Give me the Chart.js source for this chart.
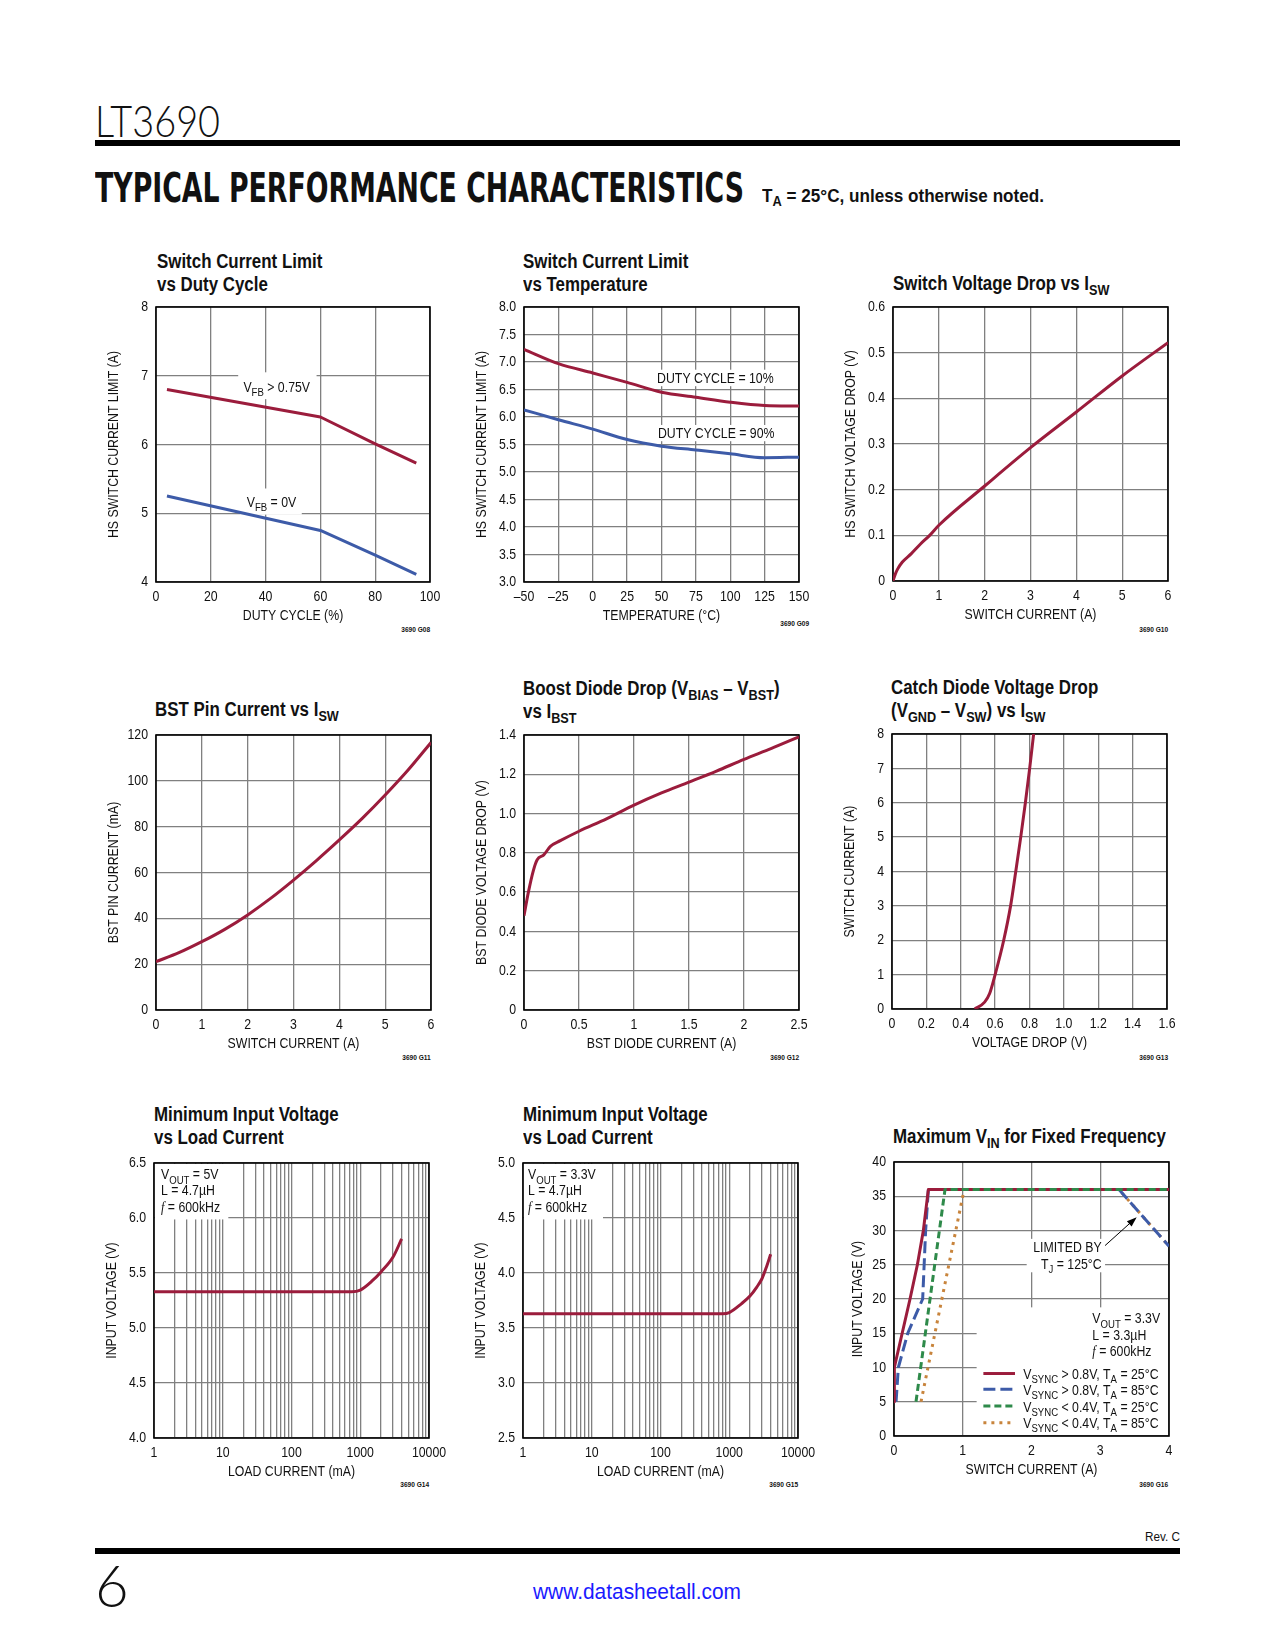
<!DOCTYPE html>
<html>
<head>
<meta charset="utf-8">
<script src="https://cdn.jsdelivr.net/npm/chart.js@4.4.1/dist/chart.umd.min.js"></script>
<style>
body{margin:0;background:#fff;}
#page{position:relative;width:1275px;height:1650px;overflow:hidden;font-family:'Liberation Sans Narrow','Arial Narrow','Liberation Sans',sans-serif;color:#111;}
.abs{position:absolute;white-space:nowrap;}
.title{font-weight:bold;font-size:20px;line-height:23px;transform:scaleX(0.845);transform-origin:left top;}
sub{font-size:75%;vertical-align:-0.3em;line-height:0;}
.fig{font-size:8px;font-weight:bold;line-height:10px;transform:scaleX(0.82);transform-origin:right top;}
.rule{position:absolute;left:95px;width:1085px;height:6px;background:#000;}
</style>
</head>
<body>
<div id="page">
  <div class="abs" id="part" style="left:95px;top:98px;font-family:Lato,'Open Sans',sans-serif;font-weight:300;font-size:44px;line-height:44px;">LT3690</div>
  <div class="rule" style="top:140px;"></div>
  <div class="abs" id="head" style="left:95px;top:168px;font-family:'DejaVu Sans Condensed','DejaVu Sans',sans-serif;font-weight:bold;font-size:41px;line-height:41px;">TYPICAL PERFORMANCE CHARACTERISTICS</div>
  <div class="abs" id="cond" style="left:762px;top:186px;font-weight:bold;font-size:19px;line-height:19px;">T<sub>A</sub> = 25°C, unless otherwise noted.</div>

  <div class="abs title" style="left:157px;top:249.6px;">Switch Current Limit<br>vs Duty Cycle</div>
  <div class="abs title" style="left:523px;top:249.6px;">Switch Current Limit<br>vs Temperature</div>
  <div class="abs title" style="left:893px;top:272.3px;">Switch Voltage Drop vs I<sub>SW</sub></div>
  <div class="abs title" style="left:155px;top:698.3px;">BST Pin Current vs I<sub>SW</sub></div>
  <div class="abs title" style="left:523px;top:676.6px;">Boost Diode Drop (V<sub>BIAS</sub> – V<sub>BST</sub>)<br>vs I<sub>BST</sub></div>
  <div class="abs title" style="left:891px;top:675.6px;">Catch Diode Voltage Drop<br>(V<sub>GND</sub> – V<sub>SW</sub>) vs I<sub>SW</sub></div>
  <div class="abs title" style="left:154px;top:1103.3px;">Minimum Input Voltage<br>vs Load Current</div>
  <div class="abs title" style="left:523px;top:1103.3px;">Minimum Input Voltage<br>vs Load Current</div>
  <div class="abs title" style="left:893px;top:1124.9px;">Maximum V<sub>IN</sub> for Fixed Frequency</div>

  <div class="abs fig" style="right:845px;top:625px;">3690 G08</div>
  <div class="abs fig" style="right:466px;top:619px;">3690 G09</div>
  <div class="abs fig" style="right:107px;top:625px;">3690 G10</div>
  <div class="abs fig" style="right:844px;top:1053px;">3690 G11</div>
  <div class="abs fig" style="right:476px;top:1053px;">3690 G12</div>
  <div class="abs fig" style="right:107px;top:1053px;">3690 G13</div>
  <div class="abs fig" style="right:846px;top:1480px;">3690 G14</div>
  <div class="abs fig" style="right:477px;top:1480px;">3690 G15</div>
  <div class="abs fig" style="right:107px;top:1480px;">3690 G16</div>

  <div class="abs" id="rev" style="left:1145px;top:1531px;font-size:12px;line-height:12px;">Rev. C</div>
  <div class="rule" style="top:1548px;"></div>
  <div class="abs" style="left:95px;top:1556px;font-family:Lato,'Open Sans',sans-serif;font-weight:300;font-size:58px;line-height:58px;">6</div>
  <div class="abs" id="url" style="left:533px;top:1581px;font-size:22px;line-height:22px;color:#1a1aff;">www.datasheetall.com</div>
</div>
<script>

// ===============================
// Data
// ===============================

// G08 switch current limit vs duty cycle
const dutyCycle = [4, 60, 80, 95];
const limitVfbHigh = [6.80, 6.40, 6.01, 5.73];
const limitVfbZero = [5.25, 4.75, 4.39, 4.11];

// G09 switch current limit vs temperature
const temperature = [-50, -25, 0, 25, 50, 75, 100, 125, 150];
const limitDuty10 = [7.23, 6.97, 6.80, 6.63, 6.45, 6.36, 6.27, 6.21, 6.20];
const limitDuty90 = [6.13, 5.95, 5.78, 5.59, 5.47, 5.40, 5.33, 5.26, 5.27];

// G10 switch voltage drop
const swCurrent = [0, 0.05, 0.1, 0.2, 0.4, 0.6, 0.8, 1, 2, 3, 4, 5, 6];
const swDrop = [0, 0.015, 0.026, 0.041, 0.06, 0.081, 0.1, 0.122, 0.208, 0.292, 0.37, 0.449, 0.522];

// G11 BST pin current
const bstSwCurrent = [0, 0.5, 1, 1.5, 2, 2.5, 3, 3.5, 4, 4.5, 5, 5.5, 6];
const bstPinCurrent = [21.1, 25, 29.8, 35.2, 41.5, 48.7, 56.7, 65.2, 74.2, 83.6, 93.8, 104.7, 116.7];

// G12 boost diode drop
const bstDiodeCurrent = [0, 0.04, 0.085, 0.12, 0.18, 0.24, 0.33, 0.5, 0.75, 1, 1.25, 1.5, 1.75, 2, 2.25, 2.5];
const bstDiodeDrop = [0.48, 0.6, 0.71, 0.765, 0.79, 0.833, 0.862, 0.91, 0.973, 1.043, 1.105, 1.16, 1.216, 1.276, 1.332, 1.391];

// G13 catch diode
const catchDrop = [0.481, 0.539, 0.568, 0.6, 0.65, 0.69, 0.72, 0.749, 0.776, 0.801, 0.824];
const catchCurrent = [0, 0.2, 0.45, 1, 2, 3, 4, 5, 6, 7, 8];

// G14 minimum input voltage, VOUT = 5V
const load5 = [1, 750, 1000, 1500, 2000, 3000, 4000];
const vinMin5 = [5.33, 5.33, 5.345, 5.43, 5.51, 5.645, 5.81];

// G15 minimum input voltage, VOUT = 3.3V
const load33 = [1, 800, 1000, 1500, 2000, 2500, 3000, 3500, 4000];
const vinMin33 = [3.63, 3.63, 3.64, 3.72, 3.79, 3.87, 3.95, 4.06, 4.17];

// G16 maximum VIN for fixed frequency
const syncHi25I = [0, 0.005, 0.233, 0.34, 0.427, 0.5, 4];
const syncHi25V = [5, 10, 20, 25, 30, 36, 36];
const syncHi85I = [0.03, 0.063, 0.2, 0.417, 0.46, 0.5, 3.27, 4];
const syncHi85V = [5, 10, 15, 20, 30, 36, 36, 27.7];
const syncLo25I = [0.32, 0.742, 4];
const syncLo25V = [5, 36, 36];
const syncLo85I = [0.393, 1.0, 1.02, 3.27, 4];
const syncLo85V = [5, 35, 36, 36, 27.7];

// log axis ticks
const logMajor = [1, 10, 100, 1000, 10000];
const logTicks = [];
for (let d = 1; d < 10000; d *= 10) {
    for (let m = 1; m < 10; m++) logTicks.push(m * d);
}
logTicks.push(10000);

// ===============================
// Style
// ===============================

const RED = "#9b1c3c";
const BLUE = "#3d5ba8";
const GREEN = "#2e8a4a";
const ORANGE = "#c8843c";
const GRID = "#808080";
const FONT = "'Liberation Sans Narrow','Arial Narrow','Liberation Sans',sans-serif";
const NARROW = 0.82;   // no narrow face installed, so squeeze the regular one
const PADL = 64, PADR = 30, PADT = 20, PADB = 48;

Chart.defaults.font.family = FONT;
Chart.defaults.color = "#111";

// ===============================
// Helpers
// ===============================

function fitWidth(id, w){
    const el = document.getElementById(id);
    const r = el.getBoundingClientRect().width;
    el.style.transformOrigin = "left top";
    el.style.transform = "scaleX(" + (w / r) + ")";
}

function narrowText(ctx){
    const orig = ctx.fillText.bind(ctx);
    ctx.fillText = function(t, x, y, mw){
        const w = ctx.measureText(t).width * NARROW;
        orig(t, x, y, mw === undefined ? w : Math.min(mw, w));
    };
}

function drawRich(ctx, parts, x, y, size, align){
    const fontFor = k => {
        if(k === "f") return "italic " + size + "px 'Liberation Serif',serif";
        return (k === "sub" ? size * 0.78 : size) + "px " + FONT;
    };
    let w = 0;
    parts.forEach(p => { ctx.font = fontFor(p[1]); w += ctx.measureText(p[0]).width * NARROW; });
    let cx = align === "right" ? x - w : (align === "center" ? x - w / 2 : x);
    ctx.fillStyle = "#111";
    ctx.textAlign = "left";
    ctx.textBaseline = "alphabetic";
    parts.forEach(p => {
        ctx.font = fontFor(p[1]);
        ctx.fillText(p[0], cx, y + (p[1] === "sub" ? size * 0.28 : 0));
        cx += ctx.measureText(p[0]).width * NARROW;
    });
}

const notesPlugin = {
    id: "notes",
    beforeDatasetsDraw(chart, args, opts){
        const {ctx, chartArea: a, scales: {x, y}} = chart;
        ctx.save();
        // white patches behind labels
        ctx.fillStyle = "#fff";
        (opts.boxes || []).forEach(b => {
            const x1 = Math.max(Math.min(x.getPixelForValue(b[0]), x.getPixelForValue(b[2])), a.left + 1);
            const x2 = Math.min(Math.max(x.getPixelForValue(b[0]), x.getPixelForValue(b[2])), a.right - 1);
            const y1 = Math.max(Math.min(y.getPixelForValue(b[1]), y.getPixelForValue(b[3])), a.top + 1);
            const y2 = Math.min(Math.max(y.getPixelForValue(b[1]), y.getPixelForValue(b[3])), a.bottom - 1);
            ctx.fillRect(x1, y1, x2 - x1, y2 - y1);
        });
        // frame
        ctx.strokeStyle = "#000";
        ctx.lineWidth = 1.6;
        ctx.strokeRect(a.left, a.top, a.right - a.left, a.bottom - a.top);
        // texts
        (opts.texts || []).forEach(t => {
            drawRich(ctx, t.parts, x.getPixelForValue(t.x), y.getPixelForValue(t.y), t.size || 15, t.align);
        });
        // legend samples
        (opts.samples || []).forEach(s => {
            ctx.beginPath();
            ctx.strokeStyle = s.color;
            ctx.lineWidth = 3;
            ctx.lineCap = "butt";
            ctx.setLineDash(s.dash);
            const py = y.getPixelForValue(s.y);
            ctx.moveTo(x.getPixelForValue(s.x1), py);
            ctx.lineTo(x.getPixelForValue(s.x2), py);
            ctx.stroke();
        });
        ctx.setLineDash([]);
        // arrow
        if(opts.arrow){
            const fx = x.getPixelForValue(opts.arrow.from[0]), fy = y.getPixelForValue(opts.arrow.from[1]);
            const tx = x.getPixelForValue(opts.arrow.to[0]), ty = y.getPixelForValue(opts.arrow.to[1]);
            const ang = Math.atan2(ty - fy, tx - fx);
            ctx.strokeStyle = "#000";
            ctx.fillStyle = "#000";
            ctx.lineWidth = 1;
            ctx.beginPath();
            ctx.moveTo(fx, fy);
            ctx.lineTo(tx - 6 * Math.cos(ang), ty - 6 * Math.sin(ang));
            ctx.stroke();
            ctx.beginPath();
            ctx.moveTo(tx, ty);
            ctx.lineTo(tx - 10 * Math.cos(ang) + 3.5 * Math.sin(ang), ty - 10 * Math.sin(ang) - 3.5 * Math.cos(ang));
            ctx.lineTo(tx - 10 * Math.cos(ang) - 3.5 * Math.sin(ang), ty - 10 * Math.sin(ang) + 3.5 * Math.cos(ang));
            ctx.closePath();
            ctx.fill();
        }
        ctx.restore();
    }
};

Chart.register(notesPlugin);

function axis(o, isX){
    const ax = {
        type: o.type || "linear",
        min: o.min,
        max: o.max,
        ticks: {
            stepSize: o.step,
            font: {family: FONT, size: 15},
            color: "#111",
            padding: isX ? 6 : 8,
            autoSkip: false,
            maxRotation: 0,
            minRotation: 0,
            callback: o.fmt || (v => String(v))
        },
        grid: {color: GRID, lineWidth: 1.3, drawTicks: false},
        border: {display: false},
        title: {
            display: true,
            text: o.title,
            font: {family: FONT, size: 15},
            color: "#111",
            padding: isX ? {top: 0, bottom: 5.6} : {top: o.tpad || 12.6, bottom: 0}
        },
        afterFit: isX ? (s => { s.height = PADB; }) : (s => { s.width = PADL; })
    };
    if(o.tickList){
        ax.afterBuildTicks = s => { s.ticks = o.tickList.map(v => ({value: v})); };
    }
    return ax;
}

function line(xs, ys, color, dash, smooth){
    return {
        data: xs.map((v, i) => ({x: v, y: ys[i]})),
        borderColor: color,
        borderWidth: 3,
        borderDash: dash || [],
        borderCapStyle: "butt",
        borderJoinStyle: "round",
        pointRadius: 0,
        fill: false,
        tension: 0,
        cubicInterpolationMode: smooth ? "monotone" : "default"
    };
}

function makeChart(left, top, size, xAxis, yAxis, datasets, notes){
    const cv = document.createElement("canvas");
    cv.width = size[0] + PADL + PADR;
    cv.height = size[1] + PADT + PADB;
    cv.style.position = "absolute";
    cv.style.left = (left - PADL) + "px";
    cv.style.top = (top - PADT) + "px";
    document.getElementById("page").appendChild(cv);
    narrowText(cv.getContext("2d"));
    return new Chart(cv, {
        type: "line",
        data: {datasets: datasets},
        options: {
            responsive: false,
            animation: false,
            devicePixelRatio: 1,
            layout: {padding: {left: 0, top: PADT, right: PADR, bottom: 0}},
            plugins: {legend: {display: false}, tooltip: {enabled: false}, notes: notes || {}},
            scales: {x: axis(xAxis, true), y: axis(yAxis, false)}
        }
    });
}

const oneDec = v => (v === 0 ? "0" : v.toFixed(1));
const fixed1 = v => v.toFixed(1);
const logLabel = v => (logMajor.includes(v) ? String(v) : "");

// ===============================
// Charts
// ===============================

// G08
makeChart(156, 307, [274, 275],
    {min: 0, max: 100, step: 20, title: "DUTY CYCLE (%)"},
    {min: 4, max: 8, step: 1, title: "HS SWITCH CURRENT LIMIT (A)"},
    [line(dutyCycle, limitVfbHigh, RED), line(dutyCycle, limitVfbZero, BLUE)],
    {
        boxes: [[30.0, 7.05, 58.6, 6.66], [30.7, 5.36, 53.2, 4.98]],
        texts: [
            {x: 31.9, y: 6.76, parts: [["V", ""], ["FB", "sub"], [" > 0.75V", ""]]},
            {x: 33.1, y: 5.09, parts: [["V", ""], ["FB", "sub"], [" = 0V", ""]]}
        ]
    });

// G09
makeChart(524, 307, [275, 275],
    {min: -50, max: 150, step: 25, title: "TEMPERATURE (°C)", fmt: v => (v < 0 ? "–" + Math.abs(v) : String(v))},
    {min: 3, max: 8, step: 0.5, title: "HS SWITCH CURRENT LIMIT (A)", fmt: fixed1},
    [line(temperature, limitDuty10, RED, null, true), line(temperature, limitDuty90, BLUE, null, true)],
    {
        boxes: [[43.9, 6.86, 133, 6.56], [43.9, 5.855, 133, 5.56]],
        texts: [
            {x: 46.8, y: 6.627, parts: [["DUTY CYCLE = 10%", ""]]},
            {x: 47.4, y: 5.612, parts: [["DUTY CYCLE = 90%", ""]]}
        ]
    });

// G10
makeChart(893, 307, [275, 274],
    {min: 0, max: 6, step: 1, title: "SWITCH CURRENT (A)"},
    {min: 0, max: 0.6, step: 0.1, title: "HS SWITCH VOLTAGE DROP (V)", fmt: oneDec},
    [line(swCurrent, swDrop, RED, null, true)]);

// G11
makeChart(156, 735, [275, 275],
    {min: 0, max: 6, step: 1, title: "SWITCH CURRENT (A)"},
    {min: 0, max: 120, step: 20, title: "BST PIN CURRENT (mA)"},
    [line(bstSwCurrent, bstPinCurrent, RED, null, true)]);

// G12
makeChart(524, 735, [275, 275],
    {min: 0, max: 2.5, step: 0.5, title: "BST DIODE CURRENT (A)"},
    {min: 0, max: 1.4, step: 0.2, title: "BST DIODE VOLTAGE DROP (V)", fmt: oneDec},
    [line(bstDiodeCurrent, bstDiodeDrop, RED, null, true)]);

// G13
makeChart(892, 734, [275, 275],
    {min: 0, max: 1.6, step: 0.2, title: "VOLTAGE DROP (V)", fmt: oneDec},
    {min: 0, max: 8, step: 1, title: "SWITCH CURRENT (A)"},
    [line(catchDrop, catchCurrent, RED, null, true)]);

// G14
makeChart(154, 1163, [275, 275],
    {type: "logarithmic", min: 1, max: 10000, title: "LOAD CURRENT (mA)", tickList: logTicks, fmt: logLabel},
    {min: 4, max: 6.5, step: 0.5, title: "INPUT VOLTAGE (V)", fmt: fixed1},
    [line(load5, vinMin5, RED, null, true)],
    {
        boxes: [[1, 6.5, 12.05, 5.987]],
        texts: [
            {x: 1.264, y: 6.351, parts: [["V", ""], ["OUT", "sub"], [" = 5V", ""]]},
            {x: 1.264, y: 6.206, parts: [["L = 4.7µH", ""]]},
            {x: 1.264, y: 6.054, parts: [["f", "f"], [" = 600kHz", ""]]}
        ]
    });

// G15
makeChart(523, 1163, [275, 275],
    {type: "logarithmic", min: 1, max: 10000, title: "LOAD CURRENT (mA)", tickList: logTicks, fmt: logLabel},
    {min: 2.5, max: 5, step: 0.5, title: "INPUT VOLTAGE (V)", fmt: fixed1},
    [line(load33, vinMin33, RED, null, true)],
    {
        boxes: [[1, 5, 14.58, 4.487]],
        texts: [
            {x: 1.182, y: 4.851, parts: [["V", ""], ["OUT", "sub"], [" = 3.3V", ""]]},
            {x: 1.182, y: 4.706, parts: [["L = 4.7µH", ""]]},
            {x: 1.182, y: 4.554, parts: [["f", "f"], [" = 600kHz", ""]]}
        ]
    });

// G16
makeChart(894, 1162, [275, 274],
    {min: 0, max: 4, step: 1, title: "SWITCH CURRENT (A)"},
    {min: 0, max: 40, step: 5, title: "INPUT VOLTAGE (V)", tpad: 18.6},
    [
        line(syncLo25I, syncLo25V, GREEN, [7, 4]),
        line(syncHi25I, syncHi25V, RED),
        line(syncHi85I, syncHi85V, BLUE, [12, 5]),
        line(syncLo85I, syncLo85V, ORANGE, [3, 5])
    ],
    {
        boxes: [[1.202, 18.78, 4, 0], [1.93, 28.78, 3.07, 23.9]],
        texts: [
            {x: 3.02, y: 26.83, align: "right", parts: [["LIMITED BY", ""]]},
            {x: 3.02, y: 24.4, align: "right", parts: [["T", ""], ["J", "sub"], [" = 125°C", ""]]},
            {x: 2.885, y: 16.44, parts: [["V", ""], ["OUT", "sub"], [" = 3.3V", ""]]},
            {x: 2.885, y: 14.0, parts: [["L = 3.3µH", ""]]},
            {x: 2.885, y: 11.61, parts: [["f", "f"], [" = 600kHz", ""]]},
            {x: 1.88, y: 8.29, parts: [["V", ""], ["SYNC", "sub"], [" > 0.8V, T", ""], ["A", "sub"], [" = 25°C", ""]]},
            {x: 1.88, y: 5.95, parts: [["V", ""], ["SYNC", "sub"], [" > 0.8V, T", ""], ["A", "sub"], [" = 85°C", ""]]},
            {x: 1.88, y: 3.51, parts: [["V", ""], ["SYNC", "sub"], [" < 0.4V, T", ""], ["A", "sub"], [" = 25°C", ""]]},
            {x: 1.88, y: 1.22, parts: [["V", ""], ["SYNC", "sub"], [" < 0.4V, T", ""], ["A", "sub"], [" = 85°C", ""]]}
        ],
        samples: [
            {x1: 1.30, x2: 1.76, y: 9.12, color: RED, dash: []},
            {x1: 1.30, x2: 1.76, y: 6.83, color: BLUE, dash: [12, 5]},
            {x1: 1.30, x2: 1.76, y: 4.39, color: GREEN, dash: [7, 4]},
            {x1: 1.30, x2: 1.76, y: 1.95, color: ORANGE, dash: [3, 5]}
        ],
        arrow: {from: [3.07, 27.8], to: [3.53, 31.95]}
    });

// header widths
fitWidth("part", 125);
fitWidth("head", 649);
fitWidth("cond", 282);
fitWidth("url", 208);
fitWidth("rev", 35);

</script>
</body>
</html>
